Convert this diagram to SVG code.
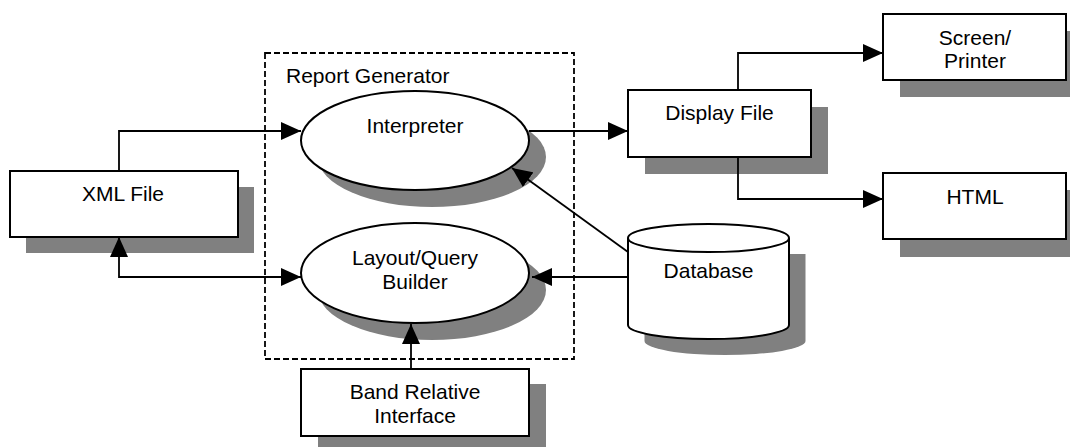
<svg xmlns="http://www.w3.org/2000/svg" width="1070" height="447" viewBox="0 0 1070 447">
<defs>
<style>
.box{fill:#fff;stroke:#000;stroke-width:2}
.sh{fill:#808080;stroke:none}
.ln{fill:none;stroke:#000;stroke-width:1.8}
.t{font-family:"Liberation Sans",Arial,sans-serif;font-size:21px;fill:#000;text-anchor:middle}
</style>
<marker id="ah" viewBox="0 0 20 18" refX="20" refY="9" markerWidth="20" markerHeight="18" markerUnits="userSpaceOnUse" orient="auto-start-reverse">
<path d="M0,0 L20,9 L0,18 Z" fill="#000"/>
</marker>
</defs>
<rect width="1070" height="447" fill="#fff"/>
<g id="report-generator">
<rect x="265" y="53" width="309" height="306" fill="none" stroke="#000" stroke-width="1.8" stroke-dasharray="6 3"/>
<text x="286" y="83" class="t" style="text-anchor:start">Report Generator</text>
</g>
<g id="xml-file">
<rect x="26" y="187" width="228" height="66" class="sh"/>
<rect x="10" y="171" width="228" height="66" class="box"/>
<text x="123" y="201" class="t">XML File</text>
</g>
<g id="interpreter">
<ellipse cx="432" cy="157" rx="114" ry="50" class="sh"/>
<ellipse cx="415" cy="140.5" rx="114" ry="49.5" class="box"/>
<text x="415" y="133" class="t">Interpreter</text>
</g>
<g id="layout-query-builder">
<ellipse cx="432" cy="290" rx="114" ry="50" class="sh"/>
<ellipse cx="415" cy="273" rx="114" ry="50" class="box"/>
<text x="415" y="265" class="t">Layout/Query</text>
<text x="415" y="289" class="t">Builder</text>
</g>
<g id="display-file">
<rect x="645" y="107" width="183" height="67" class="sh"/>
<rect x="628" y="90" width="183" height="67" class="box"/>
<text x="719.5" y="120" class="t">Display File</text>
</g>
<g id="screen-printer">
<rect x="900" y="31" width="183" height="66" class="sh"/>
<rect x="883" y="14" width="183" height="66" class="box"/>
<text x="975" y="45" class="t">Screen/</text>
<text x="975" y="68" class="t">Printer</text>
</g>
<g id="html">
<rect x="900" y="190" width="183" height="67" class="sh"/>
<rect x="883" y="173" width="183" height="66" class="box"/>
<text x="975" y="204" class="t">HTML</text>
</g>
<g id="database">
<path d="M644.5,254 V341 A80.5,14 0 0 0 805.5,341 V254 Z" class="sh"/>
<path d="M628,238 V325 A80.5,14 0 0 0 789,325 V238 A80.5,14 0 0 0 628,238 Z" class="box"/>
<path d="M628,238 A80.5,14 0 0 0 789,238" fill="none" stroke="#000" stroke-width="2"/>
<text x="708.5" y="278" class="t">Database</text>
</g>
<g id="band-relative-interface">
<rect x="318" y="384" width="228" height="67" class="sh"/>
<rect x="301" y="369" width="228" height="67" class="box"/>
<text x="415" y="399" class="t">Band Relative</text>
<text x="415" y="423" class="t">Interface</text>
</g>
<g id="connectors">
<path d="M119,171 V131 H301" class="ln" marker-end="url(#ah)"/>
<path d="M529,131 H628" class="ln" marker-end="url(#ah)"/>
<path d="M738,90 V53 H883" class="ln" marker-end="url(#ah)"/>
<path d="M738,157 V199 H883" class="ln" marker-end="url(#ah)"/>
<path d="M119,237 V277 H301" class="ln" marker-start="url(#ah)" marker-end="url(#ah)"/>
<path d="M628,277 H532" class="ln" marker-end="url(#ah)"/>
<path d="M628,252 L512,168" class="ln" marker-end="url(#ah)"/>
<path d="M411,369 V324" class="ln" marker-end="url(#ah)"/>
</g>
</svg>
